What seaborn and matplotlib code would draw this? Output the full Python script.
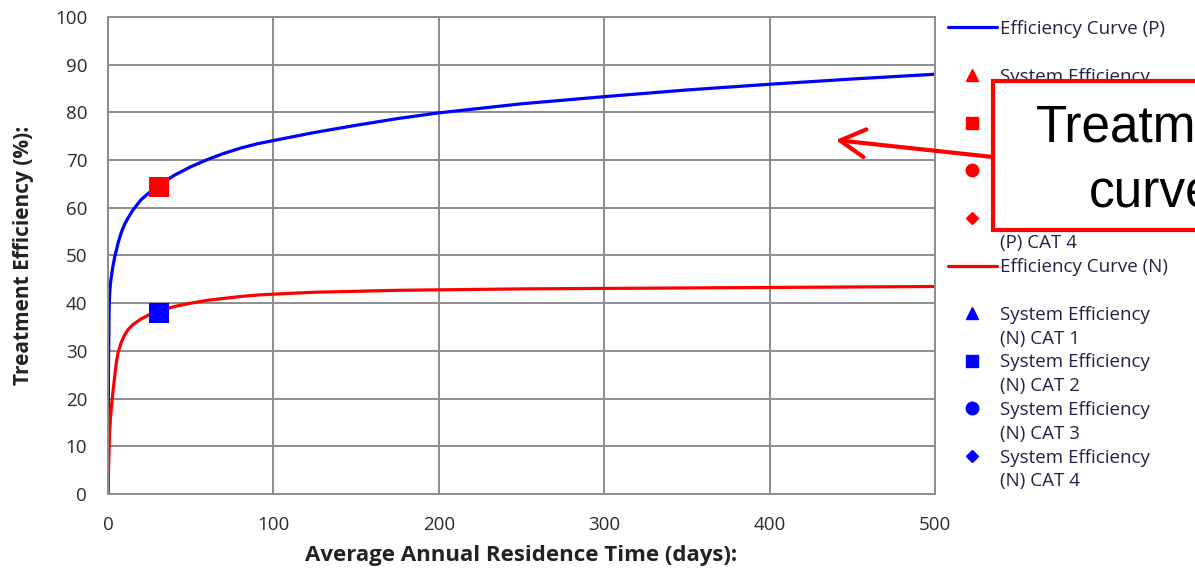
import numpy as np
import matplotlib
matplotlib.use("Agg")
import matplotlib.pyplot as plt
from matplotlib.lines import Line2D
from matplotlib.patches import Rectangle
import seaborn as sns

# values
time_days = [0, 0.3, 0.7, 1, 1.5, 2, 3, 4, 5, 6, 8, 10, 12, 15, 20, 25, 30,
             35, 40, 50, 60, 70, 80, 90, 100, 125, 150, 175, 200, 250, 300,
             350, 400, 450, 500]
eff_p = [0, 27, 39, 42, 44.2, 45.5, 47.8, 49.6, 51, 52.5, 54.8, 56.5, 57.8,
         59.5, 61.7, 63.2, 64.5, 65.7, 66.8, 68.6, 70.1, 71.4, 72.5, 73.4,
         74.1, 75.8, 77.3, 78.7, 79.9, 81.8, 83.3, 84.7, 85.9, 87, 88]
eff_n = [0, 5, 10, 13, 16, 18, 21.5, 24.5, 27.5, 29.5, 31.8, 33.3, 34.4,
         35.5, 36.7, 37.6, 38.2, 38.8, 39.3, 40, 40.6, 41, 41.4, 41.7, 41.9,
         42.3, 42.5, 42.7, 42.8, 43, 43.1, 43.2, 43.3, 43.4, 43.5]

# system efficiency points (only CAT 2 has a value)
sys_days = [31, 31]
sys_eff = [64.4, 37.9]
sys_group = ["(P) CAT 2", "(N) CAT 2"]

categories = ["CAT 1", "CAT 2", "CAT 3", "CAT 4"]
cat_markers = ["^", "s", "o", "D"]

sns.set_style("white")
plt.rcParams['font.family'] = ['Open Sans', 'DejaVu Sans']

fig = plt.figure(figsize=(11.95, 5.7), dpi=100)
ax = fig.add_axes([108/1195, 76/570, 827/1195, 477/570])

sns.lineplot(x=time_days, y=eff_p, color="#0000ff", linewidth=2.3,
             estimator=None, ax=ax)
sns.lineplot(x=time_days, y=eff_n, color="#ff0000", linewidth=2.3,
             estimator=None, ax=ax)
sns.scatterplot(x=sys_days, y=sys_eff, hue=sys_group,
                palette={"(P) CAT 2": "#ff0000", "(N) CAT 2": "#0000ff"},
                marker="s", s=210, linewidth=0, legend=False, zorder=5, ax=ax)

ax.set_xlim(0, 500)
ax.set_ylim(0, 100)
ax.set_xticks(range(0, 501, 100))
ax.set_yticks(range(0, 101, 10))
ax.grid(True, color="#8c8c8c", linewidth=1.4)
ax.set_axisbelow(True)
for sp in ax.spines.values():
    sp.set_color("#8c8c8c")
    sp.set_linewidth(1.4)
ax.tick_params(axis="y", length=0, labelsize=13.5, labelcolor="#2a2a2a", pad=15)
ax.tick_params(axis="x", length=0, labelsize=13.5, labelcolor="#2a2a2a", pad=16)
ax.set_xlabel("Average Annual Residence Time (days):", fontsize=16,
              fontweight="bold", color="#222222", labelpad=8)
ax.set_ylabel("Treatment Efficiency (%):", fontsize=15,
              fontweight="bold", color="#222222", labelpad=15)

# legend: one row per visual text line
blank = Line2D([], [], linestyle="none")
handles = [Line2D([], [], color="#0000ff", lw=2.3), blank]
labels = ["Efficiency Curve (P)", " "]
for m, c in zip(cat_markers, categories):
    handles += [Line2D([], [], linestyle="none", marker=m, color="#ff0000",
                       markersize=9 if m != "D" else 6.5), blank]
    labels += ["System Efficiency", "(P) " + c]
handles += [Line2D([], [], color="#ff0000", lw=2.3), blank]
labels += ["Efficiency Curve (N)", " "]
for m, c in zip(cat_markers, categories):
    handles += [Line2D([], [], linestyle="none", marker=m, color="#0000ff",
                       markersize=9 if m != "D" else 6.5), blank]
    labels += ["System Efficiency", "(N) " + c]

ax.legend(handles, labels, loc="upper left",
          bbox_to_anchor=(948/1195, 1 - 20/570), bbox_transform=fig.transFigure,
          frameon=False, fontsize=13.5, labelcolor="#222244",
          handlelength=2.6, handletextpad=0.15, labelspacing=0.31,
          borderpad=0, borderaxespad=0)

# callout box
fig.patches.append(Rectangle((993/1195, 1 - 230/570), 0.6, 149/570,
                             transform=fig.transFigure, facecolor="white",
                             edgecolor="#ff0000", linewidth=3, zorder=10))
fig.text(1152/1195, 1 - 142/570, "Treatment", ha="center", va="baseline",
         fontsize=37, family="Liberation Sans", color="black", zorder=11)
fig.text(1152/1195, 1 - 207/570, "curve", ha="center", va="baseline",
         fontsize=37, family="Liberation Sans", color="black", zorder=11)
ax.annotate("", xy=(440, 74.2), xycoords="data",
            xytext=(993/1195, 1 - 157/570), textcoords="figure fraction",
            arrowprops=dict(arrowstyle="->,head_length=0.9,head_width=0.5",
                            color="#ff0000", lw=3, mutation_scale=20,
                            shrinkA=0, shrinkB=0),
            zorder=9, annotation_clip=False)

fig.savefig("out.png", dpi=100)
